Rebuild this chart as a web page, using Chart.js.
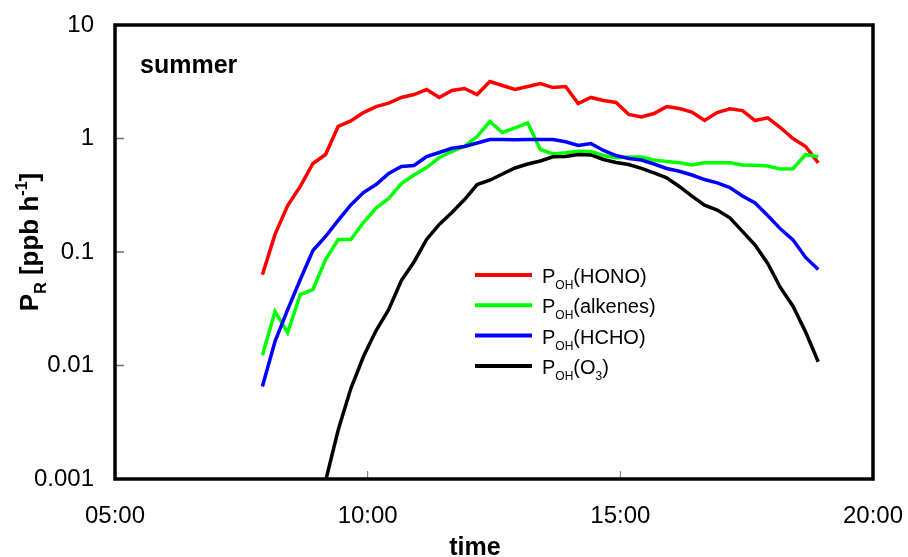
<!DOCTYPE html>
<html lang="en">
<head>
    <meta charset="UTF-8">
    <title>P_R summer</title>
    <script src="https://cdn.jsdelivr.net/npm/chart.js"></script>
    <style>
        body {
            margin: 0;
            background: #fff;
        }

        canvas {
            display: block;
        }
    </style>
</head>
<body>

    <canvas id="prChart" width="908" height="557"></canvas>

    <script>
        // measurement times (local time)
        var timeLabels = ['07:55', '08:10', '08:25', '08:40', '08:55', '09:10', '09:25', '09:40', '09:55',
            '10:10', '10:25', '10:40', '10:55', '11:10', '11:25', '11:40', '11:55', '12:10', '12:25',
            '12:40', '12:55', '13:10', '13:25', '13:40', '13:55', '14:10', '14:25', '14:40', '14:55',
            '15:10', '15:25', '15:40', '15:55', '16:10', '16:25', '16:40', '16:55', '17:10', '17:25',
            '17:40', '17:55', '18:10', '18:25', '18:40', '18:55'];

        // OH production rates [ppb h-1]
        var pHONO = [0.063, 0.143, 0.257, 0.378, 0.602, 0.723, 1.28, 1.43, 1.69, 1.91, 2.05, 2.30, 2.44,
            2.70, 2.30, 2.65, 2.76, 2.44, 3.18, 2.93, 2.70, 2.87, 3.05, 2.81, 2.87, 2.03, 2.30, 2.16,
            2.08, 1.63, 1.55, 1.66, 1.91, 1.84, 1.71, 1.44, 1.69, 1.83, 1.76, 1.44, 1.52, 1.25, 1.00,
            0.85, 0.61];
        var pAlkenes = [0.0123, 0.0299, 0.0195, 0.0422, 0.0467, 0.0859, 0.129, 0.129, 0.182, 0.244,
            0.296, 0.401, 0.477, 0.555, 0.680, 0.768, 0.855, 1.04, 1.41, 1.13, 1.24, 1.37, 0.80, 0.730,
            0.748, 0.773, 0.768, 0.708, 0.676, 0.687, 0.687, 0.647, 0.627, 0.611, 0.584, 0.611, 0.611,
            0.611, 0.584, 0.582, 0.573, 0.539, 0.541, 0.723, 0.690];
        var pHCHO = [0.00653, 0.0163, 0.0311, 0.0573, 0.103, 0.137, 0.190, 0.260, 0.334, 0.393, 0.492,
            0.567, 0.578, 0.694, 0.753, 0.821, 0.850, 0.913, 0.980, 0.980, 0.974, 0.980, 0.980, 0.980,
            0.937, 0.868, 0.904, 0.784, 0.708, 0.667, 0.647, 0.596, 0.544, 0.515, 0.477, 0.435, 0.406,
            0.370, 0.311, 0.270, 0.210, 0.160, 0.128, 0.0895, 0.0701];
        var pO3 = [null, null, null, null, null, 0.00096, 0.0027, 0.00627, 0.0120, 0.0203, 0.0311,
            0.0561, 0.0817, 0.129, 0.175, 0.223, 0.290, 0.393, 0.429, 0.487, 0.550, 0.596, 0.634, 0.690,
            0.694, 0.723, 0.716, 0.653, 0.614, 0.590, 0.546, 0.497, 0.451, 0.378, 0.311, 0.259, 0.234,
            0.200, 0.152, 0.115, 0.0792, 0.0487, 0.0333, 0.0197, 0.0108];

        var yTickValues = [0.001, 0.01, 0.1, 1, 10];
        var xTickHours = [5, 10, 15, 20];

        // legend text: "P" + subscript "OH" + species (with its own subscripts)
        var legendParts = [
            [['(HONO)', '']],
            [['(alkenes)', '']],
            [['(HCHO)', '']],
            [['(O', ''], ['3', 'sub'], [')', '']]
        ];
        var seriesColors = ['#ff0000', '#00ff00', '#0000ff', '#000000'];

        var FONT = "'Liberation Sans', Arial, sans-serif";

        function toHours(t) {
            var p = t.split(':');
            return parseInt(p[0], 10) + parseInt(p[1], 10) / 60;
        }

        function hourLabel(h) {
            return (h < 10 ? '0' : '') + h + ':00';
        }

        function makePoints(values) {
            return timeLabels.map(function (t, i) {
                return { x: toHours(t), y: values[i] };
            });
        }

        // draws pieces of text with sub/superscripts starting at x, baseline y
        function drawRich(ctx, parts, x, y, size, bold) {
            var w = bold ? 'bold ' : '';
            parts.forEach(function (p) {
                var s = p[1] ? Math.round(size * 0.62) : size;
                var dy = p[1] === 'sub' ? size * 0.3 : (p[1] === 'sup' ? -size * 0.42 : 0);
                ctx.font = w + s + 'px ' + FONT;
                ctx.fillText(p[0], x, y + dy);
                x += ctx.measureText(p[0]).width;
            });
            return x;
        }

        function richWidth(ctx, parts, size, bold) {
            var w = bold ? 'bold ' : '';
            var total = 0;
            parts.forEach(function (p) {
                var s = p[1] ? Math.round(size * 0.62) : size;
                ctx.font = w + s + 'px ' + FONT;
                total += ctx.measureText(p[0]).width;
            });
            return total;
        }

        var framePlugin = {
            id: 'frame',
            afterDatasetsDraw: function (chart) {
                var ctx = chart.ctx;
                var a = chart.chartArea;
                var xs = chart.scales.x;
                var ys = chart.scales.y;
                ctx.save();

                // small inward tick marks
                ctx.strokeStyle = '#707070';
                ctx.lineWidth = 1.5;
                yTickValues.forEach(function (v) {
                    var py = ys.getPixelForValue(v);
                    ctx.beginPath();
                    ctx.moveTo(a.left, py);
                    ctx.lineTo(a.left + 9, py);
                    ctx.stroke();
                });
                ctx.lineWidth = 1;
                xTickHours.forEach(function (h) {
                    var px = xs.getPixelForValue(h);
                    ctx.beginPath();
                    ctx.moveTo(px, a.bottom);
                    ctx.lineTo(px, a.bottom - 8);
                    ctx.stroke();
                });

                // plot frame
                ctx.strokeStyle = '#000';
                ctx.lineWidth = 3.5;
                ctx.strokeRect(a.left, a.top, a.right - a.left, a.bottom - a.top);

                ctx.fillStyle = '#000';
                ctx.textAlign = 'left';
                ctx.textBaseline = 'alphabetic';

                // season tag
                ctx.font = 'bold 25px ' + FONT;
                ctx.fillText('summer', 140, 73);

                // legend
                legendParts.forEach(function (parts, i) {
                    var ly = 275 + i * 30.3;
                    ctx.strokeStyle = seriesColors[i];
                    ctx.lineWidth = 4;
                    ctx.beginPath();
                    ctx.moveTo(475, ly);
                    ctx.lineTo(532, ly);
                    ctx.stroke();
                    var all = [['P', ''], ['OH', 'sub']].concat(parts);
                    drawRich(ctx, all, 542, ly + 8, 20, false);
                });

                // x axis title
                ctx.font = 'bold 25px ' + FONT;
                ctx.textAlign = 'center';
                ctx.fillText('time', 475, 555);

                // y axis title, rotated
                var yParts = [['P', ''], ['R', 'sub'], [' [ppb h', ''], ['-1', 'sup'], [']', '']];
                ctx.textAlign = 'left';
                var tw = richWidth(ctx, yParts, 26, true);
                ctx.translate(38, 242);
                ctx.rotate(-Math.PI / 2);
                drawRich(ctx, yParts, -tw / 2, 0, 26, true);

                ctx.restore();
            }
        };

        var ctx = document.getElementById('prChart').getContext('2d');
        var seriesValues = [pHONO, pAlkenes, pHCHO, pO3];

        var myChart = new Chart(ctx, {
            type: 'line',
            data: {
                datasets: seriesValues.map(function (vals, i) {
                    return {
                        label: 'P_OH ' + legendParts[i].map(function (p) { return p[0]; }).join(''),
                        data: makePoints(vals),
                        borderColor: seriesColors[i],
                        backgroundColor: seriesColors[i],
                        borderWidth: 3.5,
                        pointRadius: 0,
                        tension: 0,
                        fill: false,
                        order: 4 - i
                    };
                })
            },
            options: {
                responsive: false,
                animation: false,
                layout: {
                    padding: { top: 25, right: 35, left: 0, bottom: 0 }
                },
                plugins: {
                    legend: { display: false },
                    tooltip: { enabled: false }
                },
                scales: {
                    x: {
                        type: 'linear',
                        min: 5,
                        max: 20,
                        grid: { display: false, drawTicks: false },
                        border: { display: false },
                        afterBuildTicks: function (scale) {
                            scale.ticks = xTickHours.map(function (h) { return { value: h }; });
                        },
                        afterFit: function (scale) {
                            scale.height = 78;
                            // labels may overhang the frame ends; keep the plot size fixed
                            scale.paddingLeft = 0;
                            scale.paddingRight = 0;
                        },
                        ticks: {
                            padding: 23,
                            color: '#000',
                            maxRotation: 0,
                            font: { size: 24, family: FONT },
                            callback: function (v) { return hourLabel(v); }
                        }
                    },
                    y: {
                        type: 'logarithmic',
                        min: 0.001,
                        max: 10,
                        grid: { display: false, drawTicks: false },
                        border: { display: false },
                        afterBuildTicks: function (scale) {
                            scale.ticks = yTickValues.map(function (v) { return { value: v }; });
                        },
                        afterFit: function (scale) {
                            scale.width = 115;
                            scale.paddingTop = 0;
                            scale.paddingBottom = 0;
                        },
                        ticks: {
                            padding: 21,
                            color: '#000',
                            font: { size: 24, family: FONT },
                            callback: function (v) { return String(v); }
                        }
                    }
                }
            },
            plugins: [framePlugin]
        });
    </script>

</body>
</html>
